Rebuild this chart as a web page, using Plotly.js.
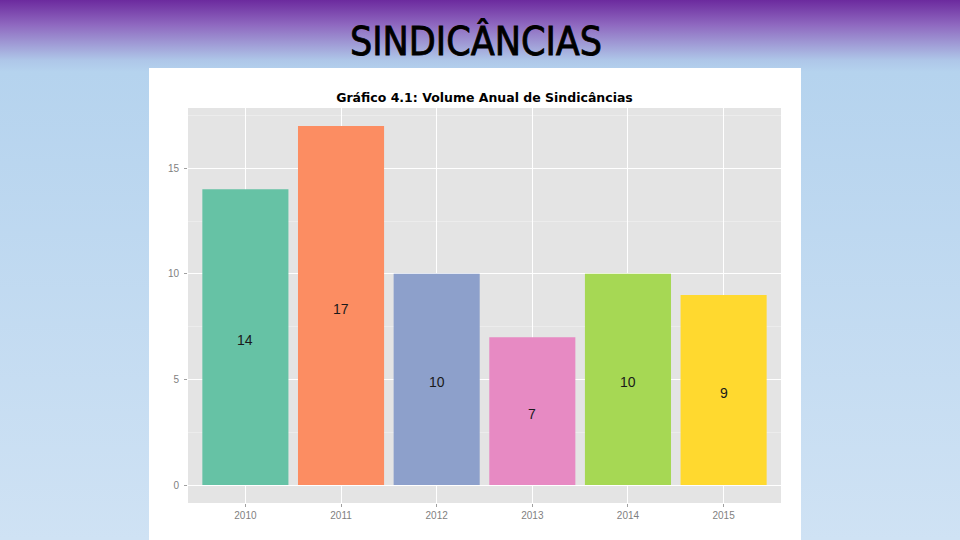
<!DOCTYPE html>
<html>
<head>
<meta charset="utf-8">
<script src="https://cdn.plot.ly/plotly-3.0.1.min.js"></script>
<style>
  html, body { margin: 0; padding: 0; }
  body {
    width: 960px; height: 540px; overflow: hidden; position: relative;
    background: linear-gradient(to bottom, #6c2a9e 0px, #8f69c0 25px, #aec6e8 60px, #b5d3ee 72px, #cfe2f4 540px);
  }
  #heading {
    position: absolute; left: 0; width: 952px; top: 18px; text-align: center;
    font-family: "Liberation Sans Narrow", "DejaVu Sans Condensed", sans-serif;
    font-size: 39px; line-height: 48px; color: #000;
    -webkit-text-stroke: 0.8px #000;
  }
  #panel {
    position: absolute; left: 149px; top: 68px; width: 652px; height: 472px; background: #fff;
  }
</style>
</head>
<body>
<div id="heading">SINDICÂNCIAS</div>
<div id="panel"><div id="chart" style="width:652px;height:472px;"></div></div>
<script>
const years = ['2010', '2011', '2012', '2013', '2014', '2015'];
const counts = [14, 17, 10, 7, 10, 9];
const colors = ['#66C2A5', '#FC8D62', '#8DA0CB', '#E78AC3', '#A6D854', '#FFD92F'];

const tickFont = { family: 'Liberation Sans, Arial, sans-serif', size: 10, color: '#7f7f7f' };

const bars = {
    x: years,
    y: counts,
    type: 'bar',
    marker: { color: colors },
    hoverinfo: 'skip',
    showlegend: false
};

// count labels sit halfway up each bar (x given as category index)
const labels = counts.map((v, i) => ({
    x: i,
    y: v / 2,
    xref: 'x',
    yref: 'y',
    text: String(v),
    showarrow: false,
    yshift: -3,
    font: { family: 'Liberation Sans, Arial, sans-serif', size: 14, color: '#1a1a1a' }
}));

Plotly.newPlot('chart', [bars], {
    width: 652,
    height: 472,
    margin: { l: 39, r: 20, t: 40, b: 37 },
    paper_bgcolor: '#ffffff',
    plot_bgcolor: '#E4E4E4',
    bargap: 0.1,
    annotations: labels,
    title: {
        text: '<b>Gráfico 4.1: Volume Anual de Sindicâncias</b>',
        font: { family: 'DejaVu Sans, Verdana, sans-serif', size: 12.5, color: '#000' },
        x: 0.5, xref: 'paper', xanchor: 'center',
        y: 1 - 30 / 472, yref: 'container', yanchor: 'middle'
    },
    xaxis: {
        type: 'category',
        range: [-0.6, 5.6],
        showgrid: true,
        gridcolor: '#ffffff',
        gridwidth: 1,
        zeroline: false,
        ticks: 'outside',
        ticklen: 3,
        tickcolor: '#a0a0a0',
        tickfont: tickFont,
        fixedrange: true
    },
    yaxis: {
        range: [-0.85, 17.85],
        tickvals: [0, 5, 10, 15],
        showgrid: true,
        gridcolor: '#ffffff',
        gridwidth: 1,
        zeroline: false,
        ticks: 'outside',
        ticklen: 3,
        tickcolor: '#a0a0a0',
        ticklabelstandoff: 3,
        tickfont: tickFont,
        minor: { tick0: 2.5, dtick: 5, showgrid: true, gridcolor: '#F2F2F2', gridwidth: 0.6, ticks: '' },
        fixedrange: true
    }
}, { displayModeBar: false, staticPlot: true });
</script>
</body>
</html>
